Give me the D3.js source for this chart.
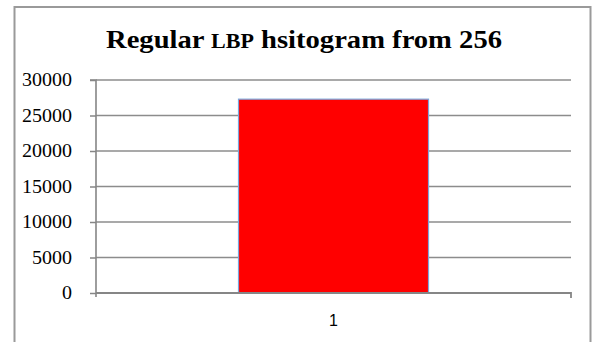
<!DOCTYPE html>
<html>
<head>
<meta charset="utf-8">
<script src="https://cdn.jsdelivr.net/npm/d3@7"></script>
<style>
  html, body { margin: 0; padding: 0; background: #fff; }
  svg { display: block; }
</style>
</head>
<body>
<svg id="chart" width="593" height="342"></svg>
<script>
// Histogram data: one bin, its count and the value axis ticks
const categories = ["1"];
const counts = [27300];
const yTicks = [0, 5000, 10000, 15000, 20000, 25000, 30000];
const yMax = 30000;

const svg = d3.select("#chart");
const plot = { left: 96, right: 571, top: 80, bottom: 293 };

// Chart frame
svg.append("rect")
  .attr("x", 14.5).attr("y", 7)
  .attr("width", 576).attr("height", 360)
  .attr("fill", "#fff")
  .attr("stroke", "#9a9a9a")
  .attr("stroke-width", 2);

// Title (with a smaller "LBP")
const title = svg.append("text")
  .attr("x", 304).attr("y", 48)
  .attr("text-anchor", "middle")
  .attr("font-family", "'Liberation Serif', 'Times New Roman', serif")
  .attr("font-weight", "bold")
  .attr("font-size", 26)
  .attr("textLength", 396)
  .attr("lengthAdjust", "spacingAndGlyphs")
  .attr("fill", "#000");
title.append("tspan").text("Regular ");
title.append("tspan").attr("font-size", 20).text("LBP");
title.append("tspan").text(" hsitogram from 256");

const x = d3.scaleBand().domain(categories).range([plot.left, plot.right]).paddingInner(0.6).paddingOuter(0.3);
const xOuter = d3.scaleBand().domain(categories).range([plot.left, plot.right]);
const y = d3.scaleLinear().domain([0, yMax]).range([plot.bottom, plot.top]);

// Horizontal gridlines
svg.append("g")
  .selectAll("line")
  .data(yTicks.filter(d => d > 0))
  .join("line")
  .attr("x1", plot.left).attr("x2", plot.right)
  .attr("y1", d => y(d)).attr("y2", d => y(d))
  .attr("stroke", "#8c8c8c")
  .attr("stroke-width", 1.3);

// Bars
svg.append("g")
  .selectAll("rect")
  .data(counts)
  .join("rect")
  .attr("x", (d, i) => x(categories[i]))
  .attr("y", d => y(d))
  .attr("width", x.bandwidth())
  .attr("height", d => y(0) - y(d))
  .attr("fill", "#ff0000")
  .attr("stroke", "#7ba7dc")
  .attr("stroke-width", 1.2);

// Y axis
const yAxis = d3.axisLeft(y).tickValues(yTicks).tickSize(6).tickPadding(18).tickFormat(d3.format("d"));
const gy = svg.append("g").attr("transform", `translate(${plot.left},0)`).call(yAxis);
gy.select(".domain").attr("stroke", "#868686").attr("stroke-width", 1.6)
  .attr("d", `M-6,${plot.top}H0V${plot.bottom + 4}`);
gy.selectAll(".tick line").attr("stroke", "#868686").attr("stroke-width", 1.5);
gy.selectAll(".tick text")
  .attr("font-family", "'Liberation Serif', 'Times New Roman', serif")
  .attr("font-size", 18)
  .attr("textLength", d => String(d).length * 10)
  .attr("lengthAdjust", "spacingAndGlyphs")
  .attr("fill", "#000");

// X axis
const xAxis = d3.axisBottom(xOuter).tickSize(0).tickPadding(22);
const gx = svg.append("g").attr("transform", `translate(0,${plot.bottom})`).call(xAxis);
gx.select(".domain").attr("stroke", "#868686").attr("stroke-width", 1.8)
  .attr("d", `M${plot.left},0H${plot.right}V5`);
gx.selectAll(".tick text")
  .attr("font-family", "'Liberation Sans', Arial, sans-serif")
  .attr("font-size", 16)
  .attr("fill", "#000");
</script>
</body>
</html>
